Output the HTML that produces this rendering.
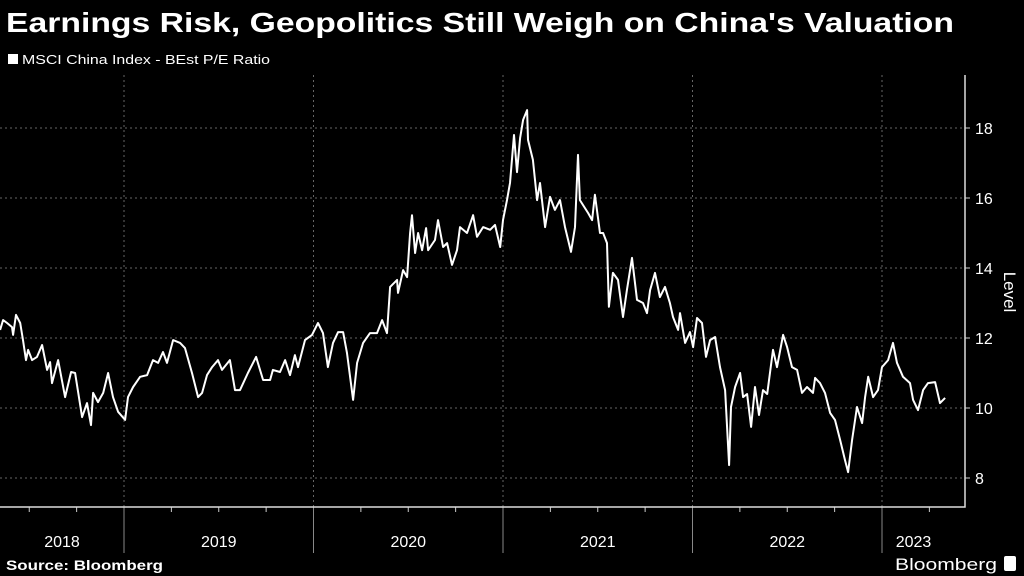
<!DOCTYPE html>
<html><head><meta charset="utf-8"><style>
html,body{margin:0;padding:0;background:#000;}
svg{display:block;font-family:"Liberation Sans",sans-serif;}
</style></head><body>
<svg id="chart" width="1024" height="576" viewBox="0 0 1024 576">
<rect width="1024" height="576" fill="#000"/>
<text x="6" y="32" fill="#fff" font-size="28" font-weight="bold" textLength="948" lengthAdjust="spacingAndGlyphs">Earnings Risk, Geopolitics Still Weigh on China's Valuation</text>
<rect x="8" y="54" width="10" height="10" fill="#fff"/>
<text x="22" y="64" fill="#fff" font-size="13" textLength="248" lengthAdjust="spacingAndGlyphs">MSCI China Index - BEst P/E Ratio</text>
<g id="grid"></g>
<g id="axes"></g>
<path id="series" fill="none" stroke="#fff" stroke-width="2" stroke-linejoin="round"/>
<text transform="translate(1004,292) rotate(90)" fill="#fff" font-size="17" text-anchor="middle">Level</text>
<text x="6" y="570" fill="#fff" font-size="14" font-weight="bold" textLength="157" lengthAdjust="spacingAndGlyphs">Source: Bloomberg</text>
<text x="895" y="570" fill="#fff" font-size="17" textLength="102" lengthAdjust="spacingAndGlyphs">Bloomberg</text>
<rect x="1004" y="556" width="12" height="15" rx="2" fill="#fff"/>
</svg>
<script>
const dates=[2018.346,2018.362,2018.383,2018.409,2018.415,2018.430,2018.452,2018.467,2018.483,2018.494,2018.515,2018.541,2018.568,2018.594,2018.610,2018.620,2018.652,2018.689,2018.721,2018.742,2018.779,2018.805,2018.826,2018.837,2018.863,2018.890,2018.916,2018.942,2018.969,2019.006,2019.021,2019.048,2019.085,2019.122,2019.153,2019.180,2019.206,2019.227,2019.259,2019.296,2019.322,2019.359,2019.391,2019.412,2019.438,2019.465,2019.496,2019.517,2019.559,2019.586,2019.612,2019.654,2019.697,2019.734,2019.771,2019.786,2019.823,2019.850,2019.876,2019.902,2019.918,2019.955,2019.992,2020.024,2020.050,2020.076,2020.103,2020.130,2020.156,2020.177,2020.209,2020.230,2020.262,2020.298,2020.335,2020.362,2020.388,2020.404,2020.441,2020.446,2020.473,2020.494,2020.510,2020.520,2020.536,2020.552,2020.573,2020.594,2020.605,2020.641,2020.657,2020.684,2020.705,2020.731,2020.757,2020.773,2020.810,2020.842,2020.863,2020.895,2020.932,2020.958,2020.985,2021.000,2021.021,2021.037,2021.058,2021.074,2021.090,2021.106,2021.127,2021.132,2021.158,2021.180,2021.195,2021.222,2021.248,2021.274,2021.301,2021.327,2021.359,2021.380,2021.396,2021.406,2021.449,2021.470,2021.485,2021.512,2021.528,2021.549,2021.559,2021.580,2021.607,2021.633,2021.654,2021.681,2021.707,2021.739,2021.760,2021.776,2021.802,2021.828,2021.855,2021.881,2021.897,2021.924,2021.934,2021.961,2021.987,2022.003,2022.024,2022.050,2022.071,2022.093,2022.119,2022.145,2022.172,2022.193,2022.203,2022.225,2022.251,2022.267,2022.288,2022.309,2022.330,2022.351,2022.372,2022.394,2022.425,2022.446,2022.478,2022.499,2022.525,2022.552,2022.578,2022.604,2022.636,2022.647,2022.673,2022.699,2022.726,2022.752,2022.779,2022.805,2022.821,2022.842,2022.868,2022.895,2022.911,2022.927,2022.953,2022.979,2023.000,2023.032,2023.058,2023.079,2023.111,2023.148,2023.164,2023.190,2023.217,2023.243,2023.280,2023.306,2023.333];
const values=[12.23,12.51,12.43,12.31,12.09,12.66,12.43,11.94,11.37,11.66,11.37,11.46,11.8,11.09,11.31,10.71,11.37,10.31,11.03,11.0,9.74,10.14,9.51,10.43,10.17,10.43,11.0,10.31,9.89,9.66,10.31,10.6,10.89,10.94,11.37,11.29,11.6,11.29,11.94,11.86,11.71,11.0,10.31,10.43,10.94,11.17,11.37,11.09,11.37,10.51,10.51,11.0,11.46,10.8,10.8,11.09,11.03,11.37,10.94,11.51,11.17,11.94,12.09,12.43,12.14,11.17,11.86,12.17,12.17,11.57,10.23,11.29,11.86,12.14,12.14,12.51,12.14,13.46,13.66,13.29,13.94,13.74,15.0,15.51,14.43,15.0,14.51,15.14,14.51,14.8,15.37,14.6,14.71,14.09,14.51,15.17,15.0,15.51,14.89,15.17,15.09,15.23,14.6,15.37,15.94,16.43,17.8,16.74,17.71,18.23,18.51,17.66,17.09,15.94,16.43,15.17,16.03,15.66,15.94,15.17,14.46,15.17,17.23,15.94,15.57,15.37,16.09,15.0,15.0,14.71,12.89,13.86,13.66,12.6,13.37,14.29,13.09,13.0,12.71,13.37,13.86,13.17,13.46,13.0,12.6,12.23,12.71,11.86,12.17,11.74,12.57,12.43,11.46,11.94,12.03,11.17,10.51,8.37,10.03,10.6,11.0,10.31,10.4,9.46,10.6,9.8,10.51,10.4,11.66,11.17,12.09,11.74,11.17,11.09,10.43,10.6,10.43,10.86,10.71,10.43,9.86,9.66,9.09,8.51,8.17,9.09,10.03,9.57,10.31,10.89,10.31,10.51,11.17,11.37,11.86,11.29,10.89,10.71,10.23,9.94,10.51,10.71,10.74,10.14,10.29];
const yTicks=[8,10,12,14,16,18];
const years=[2018,2019,2020,2021,2022,2023];
const yearLabels=["2018","2019","2020","2021","2022","2023"];

const NS="http://www.w3.org/2000/svg";
const X0=0,X1=965,YT=75,YB=507;
function xs(t){return 124+(t-2019)*189.5;}
function ys(v){return 408-(v-10)*35;}
function mk(tag,attrs,parent){const e=document.createElementNS(NS,tag);for(const k in attrs)e.setAttribute(k,attrs[k]);parent.appendChild(e);return e;}
const grid=document.getElementById('grid'),axes=document.getElementById('axes');
yTicks.forEach(v=>{
  const l=mk('line',{x1:X0,x2:X1,y1:ys(v),y2:ys(v),stroke:'#666','stroke-width':1,'stroke-dasharray':'2,3'},grid);
  
  
  const tk=mk('line',{x1:X1,x2:X1+5,y1:ys(v),y2:ys(v),stroke:'#ccc'},axes);
  
  
  const t=mk('text',{x:X1+10,y:ys(v)+6,fill:'#fff','font-size':16},axes);
  t.textContent=String(v);
  
  
});
years.forEach((yr,i)=>{
  const bx=xs(yr);
  if(bx>X0){
    const g=mk('line',{x1:bx,x2:bx,y1:YT,y2:YB,stroke:'#666','stroke-dasharray':'2,3'},grid);
    
    
    const d=mk('line',{x1:bx,x2:bx,y1:YB,y2:553,stroke:'#888'},axes);
    
    
  }
  for(let q=1;q<4;q++){const qx=xs(yr+q/4);if(qx>X0&&qx<X1){
    const tk=mk('line',{x1:qx,x2:qx,y1:YB,y2:YB+5,stroke:'#ccc'},axes);
    
    }}
  const a=Math.max(X0,bx),b=Math.min(X1-20,xs(yr+1));
  const t=mk('text',{x:(a+b)/2,y:547,fill:'#fff','font-size':16,'text-anchor':'middle'},axes);
  t.textContent=yearLabels[i];
  
  
});
const ax=mk('path',{d:`M${X0} ${YB}H${X1}V${YT}`,stroke:'#ddd',fill:'none','stroke-width':1.5},axes);


document.getElementById('series').setAttribute('d',dates.map((t,i)=>(i?'L':'M')+xs(t).toFixed(1)+' '+ys(values[i]).toFixed(1)).join(''));
</script>
</body></html>
